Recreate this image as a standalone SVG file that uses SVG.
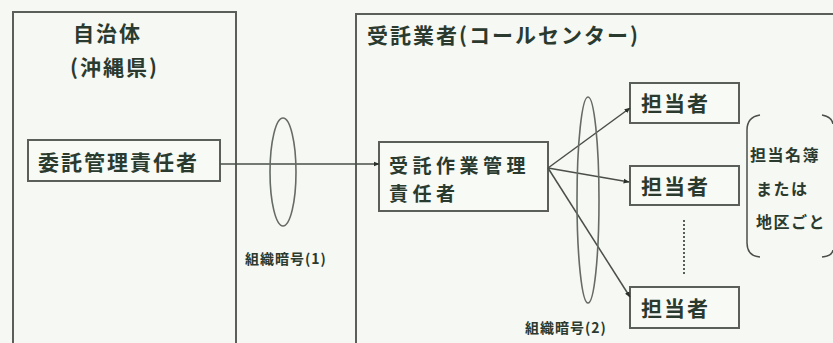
<svg xmlns="http://www.w3.org/2000/svg" width="833" height="343" viewBox="0 0 833 343">
<defs>
<style>
.bg{fill:#f6f8f3}
.box{fill:none;stroke:#5a5f5a;stroke-width:2}
.node{fill:#f8faf6;stroke:#5a5f5a;stroke-width:2}
.t{font-family:"Noto Sans CJK JP","Liberation Sans",sans-serif;font-weight:bold;fill:#2b3a2f}
.big{font-size:21px;letter-spacing:2px}
.two{font-size:19px;letter-spacing:4.5px}
.sm{font-size:14px;letter-spacing:1px}
.md{font-size:16px;letter-spacing:1.5px}
.ln{fill:none;stroke:#4a4f4a;stroke-width:1.5}
.ell{fill:none;stroke:#666b66;stroke-width:1.6}
</style>
<marker id="ah" viewBox="0 0 10 10" refX="9" refY="5" markerWidth="6" markerHeight="6" orient="auto" markerUnits="userSpaceOnUse">
<path d="M0,1 L10,5 L0,9 z" fill="#2b302b"/>
</marker>
</defs>
<rect class="bg" x="0" y="0" width="833" height="343"/>

<g id="jichitai">
<rect class="box" x="13" y="12" width="223" height="340"/>
<text class="t big" x="73" y="41">自治体</text>
<text class="t big" x="70" y="75">(沖縄県)</text>
</g>

<g id="itaku-kanri">
<rect class="node" x="28" y="140" width="192" height="41"/>
<text class="t big" x="38" y="170">委託管理責任者</text>
</g>

<g id="jutaku">
<rect class="box" x="356" y="14" width="490" height="340"/>
<text class="t big" x="367" y="43">受託業者(コールセンター)</text>
</g>

<g id="jutaku-kanri">
<rect class="node" x="379" y="142" width="169" height="69"/>
<text class="t two" x="389" y="173">受託作業管理</text>
<text class="t two" x="389" y="201">責任者</text>
</g>

<g id="tanto1">
<rect class="node" x="630" y="83" width="109" height="40"/>
<text class="t big" x="641" y="111">担当者</text>
</g>
<g id="tanto2">
<rect class="node" x="630" y="166" width="109" height="39"/>
<text class="t big" x="641" y="194">担当者</text>
</g>
<g id="tanto3">
<rect class="node" x="630" y="287" width="109" height="41"/>
<text class="t big" x="641" y="316">担当者</text>
</g>

<g id="note">
<path class="ln" d="M760,115 Q747,117 747,130 L747,243 Q747,256 760,257"/>
<path class="ln" d="M822,115 Q832,117 833,124 M833,250 Q832,256 822,257"/>
<text class="t md" x="750" y="161">担当名簿</text>
<text class="t md" x="756" y="195">または</text>
<text class="t md" x="756" y="228">地区ごと</text>
</g>

<g id="connectors">
<line class="ln" x1="220" y1="164" x2="379" y2="164" marker-end="url(#ah)"/>
<line class="ln" x1="548" y1="168" x2="630" y2="108" marker-end="url(#ah)"/>
<line class="ln" x1="548" y1="168" x2="629" y2="182" marker-end="url(#ah)"/>
<line class="ln" x1="548" y1="168" x2="630" y2="297" marker-end="url(#ah)"/>
<ellipse class="ell" cx="283" cy="172" rx="13" ry="54"/>
<ellipse class="ell" cx="588" cy="200" rx="11" ry="103"/>
<line x1="684" y1="220" x2="684" y2="274" stroke="#55605a" stroke-width="2" stroke-dasharray="2,2"/>
<text class="t sm" x="245" y="264">組織暗号(1)</text>
<text class="t sm" x="525" y="333">組織暗号(2)</text>
</g>
</svg>
